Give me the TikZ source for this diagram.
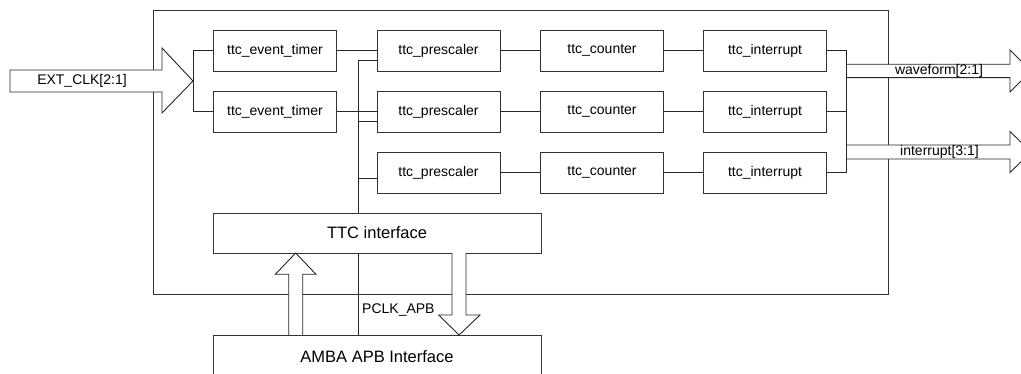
\documentclass[tikz,border=0pt]{standalone}
\usepackage{fontspec}
\setmainfont{Liberation Sans}
\begin{document}
\begin{tikzpicture}[x=1pt,y=-1pt,
  blk/.style={draw=black!80, line width=0.9pt, fill=white, minimum width=123pt,
              minimum height=41pt, inner sep=0pt, font=\fontsize{14}{16}\selectfont},
  bigblk/.style={blk, minimum width=328pt, font=\fontsize{16.5}{18}\selectfont},
  frame/.style={draw=black!80, line width=0.9pt, inner sep=0pt},
  wire/.style={draw=black!85, line width=0.9pt},
  fatarrow/.style={draw=black!85, line width=0.9pt, fill=white, line join=miter},
  lbl/.style={font=\fontsize{14}{16}\selectfont, inner sep=0pt}]
\useasboundingbox (0,0) rectangle (1021,374);
\clip (0,0) rectangle (1021,374);

% enclosing timer block
\node[frame, anchor=north west, minimum width=735pt, minimum height=284pt] (ttc) at (153,10) {};

% event timers
\node[blk] (et1) at (275,50.5) {ttc\_event\_timer};
\node[blk] (et2) at (275,111.5) {ttc\_event\_timer};

% three timer channels
\foreach \r/\y in {1/50.5, 2/111.5, 3/172.5} {
  \node[blk] (ps\r) at (438.5,\y) {ttc\_prescaler};
  \node[blk] (ct\r) at (602,\y) {ttc\_counter};
  \node[blk] (ir\r) at (765,\y) {ttc\_interrupt};
}

% register interface and APB bus
\node[bigblk, minimum height=40pt] (ttcif) at (377,233) {TTC interface};
\node[bigblk, minimum height=44pt] (amba) at (377,357) {AMBA APB Interface};

% external clock input bus
\draw[fatarrow] (10,70) -- (162,70) -- (162,48) -- (193,81) -- (162,113)
  -- (162,92) -- (10,92) -- cycle;
\coordinate (clktip) at (193,81);
\node[lbl] (extclk) at (82,81) {EXT\_CLK[2:1]};
\draw[wire] (et1.west) -- (et1.west -| clktip) -- (et2.west -| clktip) -- (et2.west);

% channel wiring
\draw[wire] (et1.east) -- (ps1.west);
\draw[wire] (et2.east) -- (ps2.west);
\foreach \r in {1,2,3} {
  \draw[wire] (ps\r.east) -- (ct\r.west);
  \draw[wire] (ct\r.east) -- (ir\r.west);
}

% PCLK_APB clock line to the prescalers
\coordinate (bx) at (358,0);
\draw[wire] ([yshift=-9.5pt]ps1.west) -| (bx |- ttcif.north);
\draw[wire] ([yshift=-9.5pt]ps2.west) -- ([yshift=-9.5pt]ps2.west -| bx);
\draw[wire] ([yshift=-5.5pt]ps3.west) -- ([yshift=-5.5pt]ps3.west -| bx);
\draw[wire] (bx |- ttcif.south) -- (bx |- amba.north);
\node[lbl, anchor=west] (pclk) at (362,310) {PCLK\_APB};

% output buses
\fill[white] (846,64.3) -- (1010,64.3) -- (1010,50) -- (1031,71) -- (1010,92)
  -- (1010,77.7) -- (846,77.7) -- cycle;
\draw[fatarrow, fill=none] (846,64.3) -- (1010,64.3) -- (1010,50) -- (1031,71)
  -- (1010,92) -- (1010,77.7) -- (846,77.7);
\node[lbl] (wave) at (939,71) {waveform[2:1]};

\fill[white] (846,145) -- (1010,145) -- (1010,131.5) -- (1031,152) -- (1010,172.5)
  -- (1010,159) -- (846,159) -- cycle;
\draw[fatarrow, fill=none] (846,145) -- (1010,145) -- (1010,131.5) -- (1031,152)
  -- (1010,172.5) -- (1010,159) -- (846,159);
\node[lbl] (intr) at (939.5,152) {interrupt[3:1]};

% outputs collected on the right
\coordinate (ox) at (846,0);
\draw[wire] (ir1.east) -- (ir1.east -| ox) -- (ir3.east -| ox) -- (ir3.east);
\draw[wire] (ir2.east) -- (ir2.east -| ox);

% APB write path up and read path down
\draw[fatarrow] (288.7,335) -- (288.7,274.3) -- (275.3,274.3) -- (295.7,253)
  -- (316,274.3) -- (302.7,274.3) -- (302.7,335);
\draw[fatarrow] (452,253) -- (452,315) -- (438.7,315) -- (459,335)
  -- (480,315) -- (466,315) -- (466,253);
\end{tikzpicture}
\end{document}
